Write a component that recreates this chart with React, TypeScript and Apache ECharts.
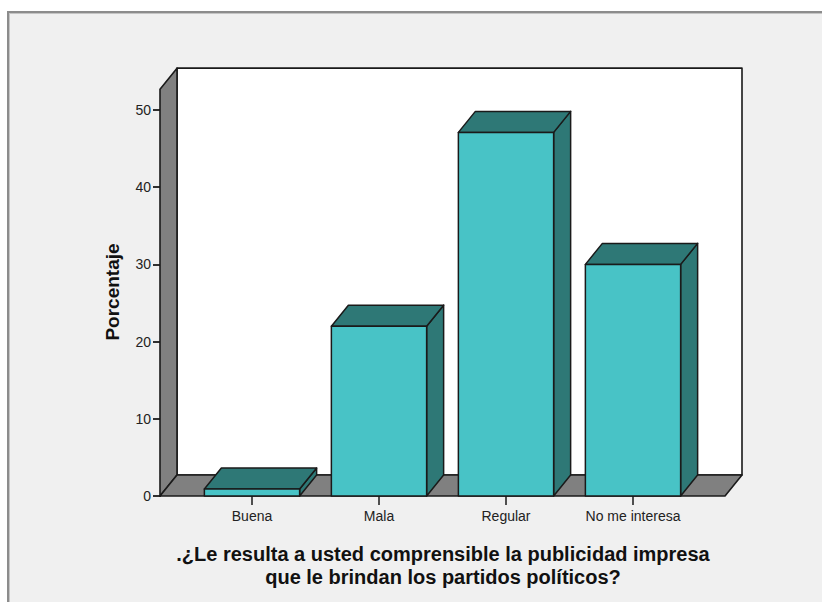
import React, { useEffect, useRef } from "react";
import * as echarts from "echarts";

// Survey answers and their share of respondents (%)
const categories = ["Buena", "Mala", "Regular", "No me interesa"];
const percentages = [0.9, 22.0, 47.1, 30.0];

// Value axis range and the height the 3D walls reach
const yMin = 0;
const yMax = 50;
const yInterval = 10;
const wallTop = 52.7;

const yTitle = "Porcentaje";
const xTitleLines = [
  ".¿Le resulta a usted comprensible la publicidad impresa",
  "que le brindan los partidos políticos?",
];

// 3D look
const DX = 17;
const DY = -21;
const WALL_PAD = 28.5;
const FRONT = "#48c3c6";
const SHADE = "#2e7876";
const WALL = "#808080";
const EDGE = "#1a1a1a";
const FONT = '"Liberation Sans", Arial, sans-serif';

function bandWidth(api: any) {
  return api.coord([1, 0])[0] - api.coord([0, 0])[0];
}

function renderFrame(_params: any, api: any) {
  const origin = api.coord([0, 0]);
  const last = api.coord([categories.length - 1, 0]);
  const band = bandWidth(api);
  const topY = api.coord([0, wallTop])[1];
  const x0 = origin[0] - band / 2 - WALL_PAD;
  const x1 = last[0] + band / 2 + WALL_PAD;
  const y0 = origin[1];
  const bx0 = x0 + DX;
  const bx1 = x1 + DX;
  const by0 = y0 + DY;
  const byTop = topY + DY;
  const edge = { stroke: EDGE, lineWidth: 1.6, lineJoin: "round" };
  return {
    type: "group",
    children: [
      {
        type: "polygon",
        shape: { points: [[bx0, byTop], [bx1, byTop], [bx1, by0], [bx0, by0]] },
        style: { fill: "#ffffff", ...edge },
      },
      {
        type: "polygon",
        shape: { points: [[x0, y0], [bx0, by0], [bx0, byTop], [x0, topY]] },
        style: { fill: WALL, ...edge },
      },
      {
        type: "polygon",
        shape: { points: [[x0, y0], [x1, y0], [bx1, by0], [bx0, by0]] },
        style: { fill: WALL, ...edge },
      },
    ],
  };
}

function renderBar(_params: any, api: any) {
  const idx = api.value(0);
  const v = api.value(1);
  const base = api.coord([idx, 0]);
  const top = api.coord([idx, v]);
  const w = bandWidth(api) * 0.75;
  const xl = base[0] - w / 2;
  const xr = base[0] + w / 2;
  const yt = top[1];
  const yb = base[1];
  const edge = { stroke: EDGE, lineWidth: 1.5, lineJoin: "round" };
  return {
    type: "group",
    children: [
      {
        type: "polygon",
        shape: { points: [[xr, yt], [xr + DX, yt + DY], [xr + DX, yb + DY], [xr, yb]] },
        style: { fill: SHADE, ...edge },
      },
      {
        type: "polygon",
        shape: { points: [[xl, yt], [xr, yt], [xr + DX, yt + DY], [xl + DX, yt + DY]] },
        style: { fill: SHADE, ...edge },
      },
      {
        type: "rect",
        shape: { x: xl, y: yt, width: w, height: yb - yt },
        style: { fill: FRONT, ...edge },
      },
    ],
  };
}

export default function App() {
  const ref = useRef<HTMLDivElement>(null);

  useEffect(() => {
    if (!ref.current) return;
    const chart = echarts.init(ref.current, null, { renderer: "svg" });
    chart.setOption({
      animation: false,
      backgroundColor: "transparent",
      grid: { left: 188.5, right: 125.5, top: 110, bottom: 106, containLabel: false },
      xAxis: {
        type: "category",
        data: categories,
        axisLine: { show: false },
        axisTick: {
          show: true,
          alignWithLabel: true,
          length: 9,
          lineStyle: { color: EDGE, width: 1.5 },
        },
        axisLabel: { fontSize: 14, color: "#222", margin: 13, fontFamily: FONT },
        splitLine: { show: false },
      },
      yAxis: {
        type: "value",
        min: yMin,
        max: yMax,
        interval: yInterval,
        offset: 27.5,
        axisLine: { show: false },
        axisTick: { show: true, length: 8, lineStyle: { color: EDGE, width: 1.8 } },
        axisLabel: { fontSize: 14, color: "#222", margin: 10, fontFamily: FONT },
        splitLine: { show: false },
      },
      graphic: [
        {
          type: "text",
          x: 112,
          y: 292,
          rotation: Math.PI / 2,
          style: {
            text: yTitle,
            font: `bold 19px ${FONT}`,
            fill: "#111",
            textAlign: "center",
            textVerticalAlign: "middle",
          },
        },
        {
          type: "text",
          x: 443,
          y: 565,
          style: {
            text: xTitleLines.join("\n"),
            font: `bold 20px ${FONT}`,
            fill: "#111",
            textAlign: "center",
            textVerticalAlign: "middle",
            lineHeight: 23,
          },
        },
      ],
      series: [
        {
          type: "custom",
          silent: true,
          z: 1,
          clip: false,
          renderItem: renderFrame,
          data: [[0, 0]],
          encode: { x: 0, y: 1 },
        },
        {
          type: "custom",
          silent: true,
          z: 2,
          clip: false,
          renderItem: renderBar,
          data: categories.map((_, i) => [i, percentages[i]]),
          encode: { x: 0, y: 1 },
        },
      ],
    });
    return () => chart.dispose();
  }, []);

  return (
    <div
      style={{
        position: "absolute",
        left: 0,
        top: 0,
        width: 822,
        height: 602,
        overflow: "hidden",
        background: "#ffffff",
      }}
    >
      <div
        style={{
          position: "absolute",
          left: 7,
          top: 11,
          width: 900,
          height: 700,
          background: "#f0f0f0",
          borderLeft: "2px solid #8c8c8c",
          borderTop: "2px solid #8c8c8c",
          boxShadow: "inset 1px 1px 0 #c4c4c4",
        }}
      />
      <div ref={ref} style={{ position: "absolute", left: 0, top: 0, width: 822, height: 602 }} />
    </div>
  );
}
